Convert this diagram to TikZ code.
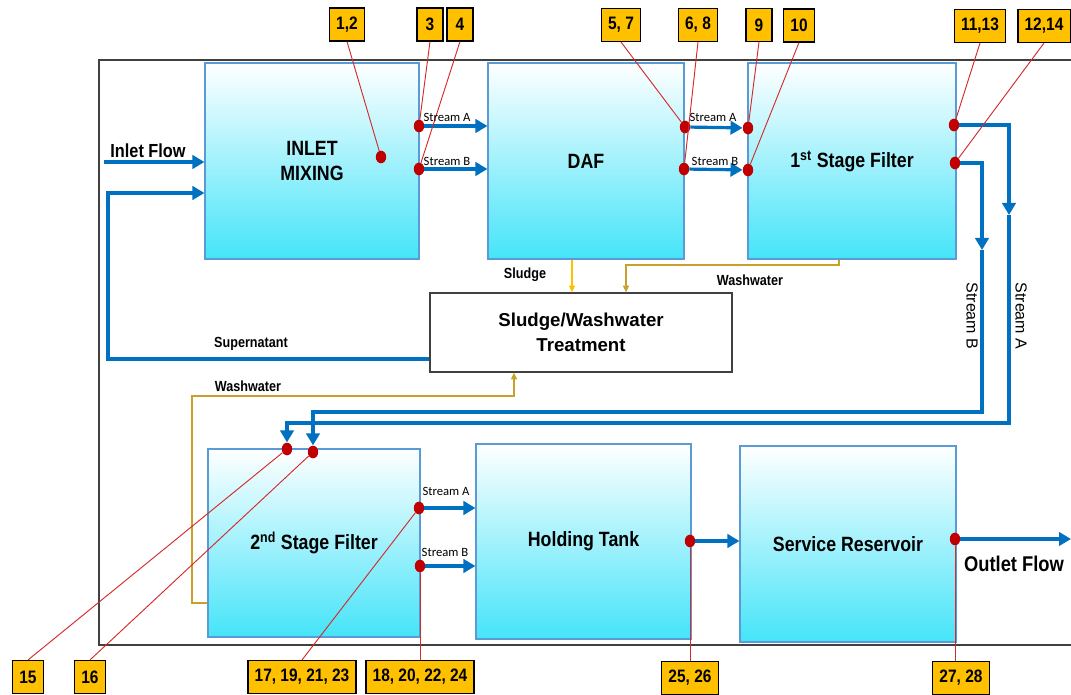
\documentclass[tikz,border=0pt]{standalone}
\usepackage{fontspec}
\setmainfont{Liberation Sans}
\newfontfamily\narrowfont[FakeStretch=0.86]{Liberation Sans}
\newfontfamily\calfont{Carlito}
\usepackage{tikz}
\usetikzlibrary{positioning,arrows.meta,shapes.geometric}

\definecolor{flowblue}{HTML}{0070C0}
\definecolor{dotred}{HTML}{C00000}
\definecolor{tagyellow}{HTML}{FFC000}
\definecolor{boxedge}{HTML}{5B9BD5}
\definecolor{boxcyan}{HTML}{45E4F9}
\definecolor{washgold}{HTML}{C9A02A}
\definecolor{sludgegold}{HTML}{FFC000}
\definecolor{leadred}{HTML}{D42A2A}
\definecolor{framegray}{HTML}{404040}

\begin{document}
\begin{tikzpicture}[
x=0.75pt,
y=-0.75pt,
unit/.style={
draw=boxedge,
line width=0.8pt,
top color=white,
bottom color=boxcyan,
align=center,
font=\narrowfont\bfseries\fontsize{15.5}{18.75}\selectfont
},
treatbox/.style={
draw=framegray,
line width=1pt,
fill=white,
align=center,
minimum width=226.5pt,
minimum height=59.25pt,
font=\bfseries\fontsize{14}{18.5}\selectfont
},
tag/.style={
draw=black,
line width=0.8pt,
fill=tagyellow,
minimum height=24.75pt,
minimum width=19.5pt,
inner xsep=5pt,
font=\narrowfont\bfseries\fontsize{13.5}{15}\selectfont
},
dot/.style={
ellipse,
fill=dotred,
minimum width=7.8pt,
minimum height=9.5pt,
inner sep=0pt
},
leader/.style={
draw=leadred,
line width=0.7pt
},
flowline/.style={
draw=flowblue,
line width=2.4pt
},
flow/.style={
flowline,
-{Triangle[length=9pt,width=10pt]}
},
sludgeln/.style={
draw=sludgegold,
line width=0.8pt,
-{Triangle[length=5pt,width=4.5pt]}
},
washln/.style={
draw=washgold,
line width=0.8pt,
-{Triangle[length=5pt,width=4.5pt]}
},
smalltxt/.style={
inner sep=0pt,
font=\calfont\fontsize{9.5}{11}\selectfont
},
lbl/.style={
inner sep=0pt,
font=\narrowfont\bfseries\fontsize{11}{13}\selectfont
},
vlbl/.style={
inner sep=0pt,
rotate=-90,
font=\fontsize{12}{14}\selectfont
}
]

\useasboundingbox (0,0) rectangle (1071,695);

%%%%%%%%%%%%%%%%%%%%%%%%%%%%%%%%%%%%%%%%%%%%%
% Frame
%%%%%%%%%%%%%%%%%%%%%%%%%%%%%%%%%%%%%%%%%%%%%

\draw[framegray, line width=1.1pt] (1071,60) -| (99,645) -- (1071,645);

%%%%%%%%%%%%%%%%%%%%%%%%%%%%%%%%%%%%%%%%%%%%%
% Process Units
%%%%%%%%%%%%%%%%%%%%%%%%%%%%%%%%%%%%%%%%%%%%%

\node[unit, minimum width=160.5pt, minimum height=147pt] (mix) at (312,161)
{INLET\\
MIXING};

\node[unit, minimum width=147pt, minimum height=147pt] (daf) at (586,161)
{DAF};

\node[unit, minimum width=156pt, minimum height=147pt] (filt1) at (852,161)
{1\textsuperscript{st} Stage Filter};

\node[treatbox] (treat) at (581,332.5)
{Sludge/Washwater\\
Treatment};

\node[unit, minimum width=159pt, minimum height=141pt] (filt2) at (314,543)
{2\textsuperscript{nd} Stage Filter};

\node[unit, minimum width=161.25pt, minimum height=146.25pt] (hold) at (583.5,541.5)
{Holding Tank};

\node[unit, minimum width=162pt, minimum height=147pt] (resv) at (848,544)
{Service Reservoir};

%%%%%%%%%%%%%%%%%%%%%%%%%%%%%%%%%%%%%%%%%%%%%
% Sampling Points
%%%%%%%%%%%%%%%%%%%%%%%%%%%%%%%%%%%%%%%%%%%%%

\node[dot] (d12) at (381,157) {};
\node[dot] (d3) at (419,126) {};
\node[dot] (d4) at (419,169) {};
\node[dot] (d57) at (685,127) {};
\node[dot] (d68) at (684,169) {};
\node[dot] (d9) at (748,128) {};
\node[dot] (d10) at (748,170) {};
\node[dot] (d1113) at (954,125) {};
\node[dot] (d1214) at (955,163) {};
\node[dot] (d15) at (287,449) {};
\node[dot] (d16) at (313,452) {};
\node[dot] (d17) at (419,508) {};
\node[dot] (d18) at (420,566) {};
\node[dot] (d25) at (690,541) {};
\node[dot] (d27) at (955,539) {};

%%%%%%%%%%%%%%%%%%%%%%%%%%%%%%%%%%%%%%%%%%%%%
% Tags
%%%%%%%%%%%%%%%%%%%%%%%%%%%%%%%%%%%%%%%%%%%%%

\node[tag] (t12) at (347,24.5) {1,2};
\node[tag] (t3) at (430,24.5) {3};
\node[tag] (t4) at (460,24.5) {4};
\node[tag] (t57) at (621,25) {5, 7};
\node[tag] (t68) at (698,25) {6, 8};
\node[tag] (t9) at (759,25) {9};
\node[tag] (t10) at (799,25.5) {10};
\node[tag] (t1113) at (980,26) {11,13};
\node[tag] (t1214) at (1044,26) {12,14};
\node[tag] (t15) at (28,677) {15};
\node[tag] (t16) at (90,677) {16};
\node[tag] (t17) at (302,677) {17, 19, 21, 23};
\node[tag] (t18) at (420,677) {18, 20, 22, 24};
\node[tag] (t25) at (690,678) {25, 26};
\node[tag] (t27) at (961,678) {27, 28};

%%%%%%%%%%%%%%%%%%%%%%%%%%%%%%%%%%%%%%%%%%%%%
% Coordinates
%%%%%%%%%%%%%%%%%%%%%%%%%%%%%%%%%%%%%%%%%%%%%

\coordinate (inlet) at (104,162);
\coordinate (recyc) at (108,193);
\coordinate (suplevel) at (0,359);
\coordinate (amid) at (1009,215);
\coordinate (alevel) at (0,423);
\coordinate (bmid) at (982,250);
\coordinate (blevel) at (0,412);
\coordinate (outlet) at (1071,539);
\coordinate (sludgex) at (572,0);
\coordinate (wwa) at (839,265);
\coordinate (wwb) at (626,265);
\coordinate (wwc) at (192,396);
\coordinate (wwd) at (514,396);
\coordinate (wwe) at (192,603);

%%%%%%%%%%%%%%%%%%%%%%%%%%%%%%%%%%%%%%%%%%%%%
% Flows
%%%%%%%%%%%%%%%%%%%%%%%%%%%%%%%%%%%%%%%%%%%%%

\draw[flow] (inlet)--(inlet -| mix.west);

\draw[flow] (treat.west |- suplevel) -| (recyc)--(recyc -| mix.west);

\draw[flow] (d3)--(d3 -| daf.west);

\draw[flow] (d4)--(d4 -| daf.west);

\draw[flow] (d57)--(d9);

\draw[flow] (d68)--(d10);

\draw[flow] (d1113) -| (amid);
\draw[flow] (amid)--(amid |- alevel) -| (d15.north);

\draw[flow] (d1214) -| (bmid);
\draw[flow] (bmid)--(bmid |- blevel) -| (d16.north);

\draw[flow] (d17)--(d17 -| hold.west);

\draw[flow] (d18)--(d18 -| hold.west);

\draw[flow] (d25)--(d25 -| resv.west);

\draw[flow] (d27)--(outlet);

\draw[sludgeln] (daf.south -| sludgex)--(treat.north -| sludgex);

\draw[washln] (filt1.south -| wwa)--(wwa)--(wwb)--(treat.north -| wwb);

\draw[washln] (filt2.west |- wwe)--(wwe)--(wwc)--(wwd)--(treat.south -| wwd);

%%%%%%%%%%%%%%%%%%%%%%%%%%%%%%%%%%%%%%%%%%%%%
% Leaders
%%%%%%%%%%%%%%%%%%%%%%%%%%%%%%%%%%%%%%%%%%%%%

\draw[leader] (t12.south)--(d12);
\draw[leader] (t3.south)--(d3);
\draw[leader] (t4.south)--(d4);
\draw[leader] (t57.south)--(d57);
\draw[leader] (t68.south)--(d68);
\draw[leader] (t9.south)--(d9);
\draw[leader] (t10.south)--(d10);
\draw[leader] (t1113.south)--(d1113);
\draw[leader] (t1214.south)--(d1214);
\draw[leader] (t15.north)--(d15);
\draw[leader] (t16.north)--(d16);
\draw[leader] (t17.north)--(d17);
\draw[leader] (t18.north)--(d18);
\draw[leader] (t25.north)--(d25);
\draw[leader] (t27.north -| d27)--(d27);

%%%%%%%%%%%%%%%%%%%%%%%%%%%%%%%%%%%%%%%%%%%%%
% Labels
%%%%%%%%%%%%%%%%%%%%%%%%%%%%%%%%%%%%%%%%%%%%%

\node[inner sep=0pt, font=\narrowfont\bfseries\fontsize{14.2}{16}\selectfont] (linlet) at (148,151) {Inlet Flow};
\node[inner sep=0pt, font=\narrowfont\bfseries\fontsize{16}{18}\selectfont] (loutlet) at (1014,564) {Outlet Flow};

\node[smalltxt] (sa1) at (447,117) {Stream A};
\node[smalltxt] (sb1) at (447,161) {Stream B};
\node[smalltxt] (sa2) at (713,117) {Stream A};
\node[smalltxt] (sb2) at (715,161) {Stream B};
\node[smalltxt] (sa3) at (446,491) {Stream A};
\node[smalltxt] (sb3) at (445,552) {Stream B};

\node[vlbl] (vb) at (972,316) {Stream B};
\node[vlbl] (va) at (1021,316) {Stream A};

\node[lbl] (lsludge) at (525,275) {Sludge};
\node[lbl] (lwash1) at (750,280) {Washwater};
\node[lbl] (lsuper) at (251,344) {Supernatant};
\node[lbl] (lwash2) at (248,386) {Washwater};

\end{tikzpicture}
\end{document}
